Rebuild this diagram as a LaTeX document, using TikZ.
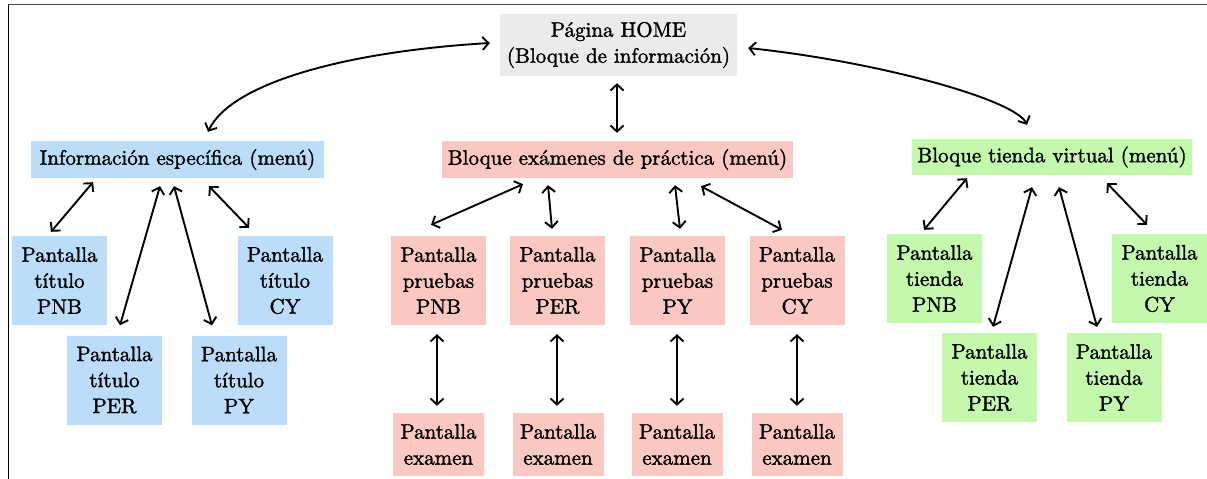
\documentclass[tikz,border=0pt]{standalone}
\usepackage{fontspec}
\newfontfamily\diagfont{lmroman10-regular}[Extension=.otf, FakeBold=1.5]
\usepackage{tikz}
\usetikzlibrary{arrows.meta,calc}
\definecolor{homegray}{RGB}{235,235,235}
\definecolor{infoblue}{RGB}{187,221,250}
\definecolor{exampink}{RGB}{250,200,195}
\definecolor{shopgreen}{RGB}{196,248,172}

\begin{document}
\begin{tikzpicture}[x=1pt, y=-1pt,
		box/.style={inner sep=0pt, align=center, font=\diagfont\fontsize{21}{26}\selectfont},
		menu/.style={box, minimum height=37pt},
		screen/.style={box, minimum width=95pt, minimum height=89pt},
		exam/.style={box, minimum width=91pt, minimum height=63pt},
		link/.style={<->, line width=1.9pt, >={Straight Barb[length=6pt,width=13pt]}}]
	\useasboundingbox (0,0) rectangle (1207,479);
	\draw[line width=1.5pt, black!70] (8,4.5) -- (1207,4.5);
	\draw[line width=0.8pt] (8,4.5) -- (8,479);

	\node[box, fill=homegray, minimum width=237pt, minimum height=62pt] (home) at (618.5,45) {Página HOME\\(Bloque de información)};
	\node[menu, fill=infoblue, minimum width=293pt] (info) at (177.5,159.5) {Información específica (menú)};
	\node[menu, fill=exampink, minimum width=351pt] (exam) at (617.5,159.5) {Bloque exámenes de práctica (menú)};
	\node[menu, fill=shopgreen, minimum width=280pt, minimum height=36pt] (shop) at (1052,157) {Bloque tienda virtual (menú)};

	\node[screen, fill=infoblue] (tPNB) at (59.5,280.5) {Pantalla\\título\\PNB};
	\node[screen, fill=infoblue] (tCY) at (285,280.5) {Pantalla\\título\\CY};
	\node[screen, fill=infoblue] (tPER) at (114.5,380) {Pantalla\\título\\PER};
	\node[screen, fill=infoblue] (tPY) at (239,380) {Pantalla\\título\\PY};

	\node[screen, fill=exampink] (pPNB) at (438.5,280.5) {Pantalla\\pruebas\\PNB};
	\node[screen, fill=exampink] (pPER) at (557.5,280.5) {Pantalla\\pruebas\\PER};
	\node[screen, fill=exampink] (pPY) at (677.5,280.5) {Pantalla\\pruebas\\PY};
	\node[screen, fill=exampink] (pCY) at (797,280.5) {Pantalla\\pruebas\\CY};

	\node[exam, fill=exampink] (ePNB) at (438.5,444.5) {Pantalla\\examen};
	\node[exam, fill=exampink] (ePER) at (558,444.5) {Pantalla\\examen};
	\node[exam, fill=exampink] (ePY) at (677,444.5) {Pantalla\\examen};
	\node[exam, fill=exampink] (eCY) at (797,444.5) {Pantalla\\examen};

	\node[screen, fill=shopgreen] (dPNB) at (934.5,278.5) {Pantalla\\tienda\\PNB};
	\node[screen, fill=shopgreen] (dCY) at (1159.5,278.5) {Pantalla\\tienda\\CY};
	\node[screen, fill=shopgreen] (dPER) at (989.5,377.5) {Pantalla\\tienda\\PER};
	\node[screen, fill=shopgreen] (dPY) at (1114,377.5) {Pantalla\\tienda\\PY};

	\draw[link] ($(home.west)+(-10,-2)$) .. controls +(-150,9) and +(22,-47) .. ($(info.north)+(30.5,-9)$);
	\draw[link] ($(home.east)+(11,3)$) .. controls +(132,14) and +(-12,-25) .. ($(shop.north)+(-25,-14)$);
	\draw[link] ($(home.south)+(-1.5,7)$) -- ($(exam.north)+(-0.5,-8)$);

	\draw[link] ($(info.south)+(-84.5,4)$) -- ($(tPNB.north)+(-8.5,-4)$);
	\draw[link] ($(info.south)+(-17.5,8)$) -- ($(tPER.north)+(5.5,-10)$);
	\draw[link] ($(info.south)+(-3.5,8)$) -- ($(tPY.north)+(-27,-10)$);
	\draw[link] ($(info.south)+(31.5,8)$) -- ($(tCY.north)+(-36,-8)$);

	\draw[link] ($(exam.south)+(-94.5,6)$) -- ($(pPNB.north)+(-7.5,-11)$);
	\draw[link] ($(exam.south)+(-69.5,7)$) -- ($(pPER.north)+(-5.5,-7)$);
	\draw[link] ($(exam.south)+(57.5,7)$) -- ($(pPY.north)+(2.5,-7)$);
	\draw[link] ($(exam.south)+(83.5,8)$) -- ($(pCY.north)+(-15,-6)$);

	\draw[link] ($(pPNB.south)+(-1.5,9)$) -- ($(ePNB.north)+(-1.5,-7)$);
	\draw[link] ($(pPER.south)+(-0.5,9)$) -- ($(ePER.north)+(-1,-7)$);
	\draw[link] ($(pPY.south)+(-0.5,9)$) -- ($(ePY.north)+(0,-7)$);
	\draw[link] ($(pCY.south)+(0,9)$) -- ($(eCY.north)+(0,-7)$);

	\draw[link] ($(shop.south)+(-85,3)$) -- ($(dPNB.north)+(-10.5,-4)$);
	\draw[link] ($(shop.south)+(-20,12)$) -- ($(dPER.north)+(3.5,-6)$);
	\draw[link] ($(shop.south)+(7,12)$) -- ($(dPY.north)+(-17,-6)$);
	\draw[link] ($(shop.south)+(55,8)$) -- ($(dCY.north)+(-12.5,-9)$);
\end{tikzpicture}
\end{document}
